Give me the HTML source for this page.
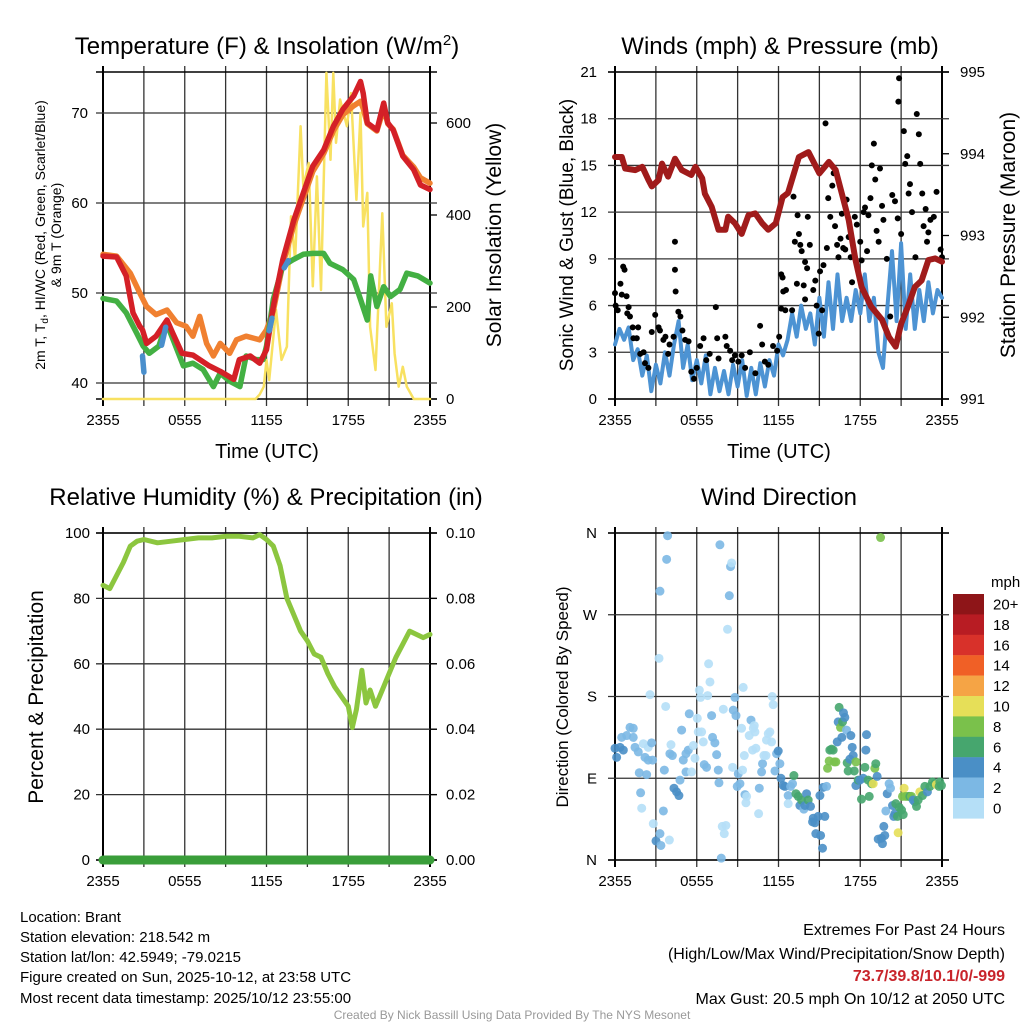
<!DOCTYPE html>
<html><head><meta charset="utf-8"><style>
body{margin:0;background:#fff}
svg{font-family:"Liberation Sans",Arial,sans-serif}
</style></head><body>
<svg id="chart" width="1024" height="1024" viewBox="0 0 1024 1024" xmlns="http://www.w3.org/2000/svg">
<rect width="1024" height="1024" fill="#fff"/>
<g id="layer"></g>
<text x="267" y="54" font-size="24" text-anchor="middle">Temperature (F) &amp; Insolation (W/m<tspan font-size="15" dy="-9">2</tspan><tspan dy="9">)</tspan></text>
<text x="780" y="54" font-size="24" text-anchor="middle">Winds (mph) &amp; Pressure (mb)</text>
<text x="266" y="505" font-size="24" text-anchor="middle">Relative Humidity (%) &amp; Precipitation (in)</text>
<text x="779" y="505" font-size="24" text-anchor="middle">Wind Direction</text>
<text x="267" y="458" font-size="20" text-anchor="middle">Time (UTC)</text>
<text x="779" y="458" font-size="20" text-anchor="middle">Time (UTC)</text>
<text transform="translate(45,235) rotate(-90)" font-size="14" text-anchor="middle">2m T, T<tspan font-size="10" dy="3">d</tspan><tspan dy="-3">, HI/WC (Red, Green, Scarlet/Blue)</tspan></text>
<text transform="translate(61,235) rotate(-90)" font-size="14" text-anchor="middle">&amp; 9m T (Orange)</text>
<text transform="translate(501,235) rotate(-90)" font-size="21" text-anchor="middle">Solar Insolation (Yellow)</text>
<text transform="translate(573,235) rotate(-90)" font-size="19" text-anchor="middle">Sonic Wind &amp; Gust (Blue, Black)</text>
<text transform="translate(1015,235) rotate(-90)" font-size="21" text-anchor="middle">Station Pressure (Maroon)</text>
<text transform="translate(43,697) rotate(-90)" font-size="21" text-anchor="middle">Percent &amp; Precipitation</text>
<text transform="translate(568,697) rotate(-90)" font-size="17" text-anchor="middle">Direction (Colored By Speed)</text>
<g font-size="15">
<text x="20" y="922">Location: Brant</text>
<text x="20" y="942">Station elevation: 218.542 m</text>
<text x="20" y="962">Station lat/lon: 42.5949; -79.0215</text>
<text x="20" y="982">Figure created on Sun, 2025-10-12, at 23:58 UTC</text>
<text x="20" y="1003">Most recent data timestamp: 2025/10/12 23:55:00</text>
</g>
<g font-size="16" text-anchor="end">
<text x="1005" y="935">Extremes For Past 24 Hours</text>
<text x="1005" y="959">(High/Low/Max Wind/Precipitation/Snow Depth)</text>
<text x="1005" y="981" fill="#c8242b" font-weight="bold">73.7/39.8/10.1/0/-999</text>
<text x="1005" y="1004">Max Gust: 20.5 mph On 10/12 at 2050 UTC</text>
</g>
<text x="512" y="1019" font-size="12" fill="#999" text-anchor="middle">Created By Nick Bassill Using Data Provided By The NYS Mesonet</text>
</svg>
<script>
const timeTickLabels = ["2355","0555","1155","1755","2355"];
const tempTicks = [40,50,60,70];
const solarTicks = [0,200,400,600];
const windTicks = [0,3,6,9,12,15,18,21];
const pressTicks = [991,992,993,994,995];
const rhTicks = [0,20,40,60,80,100];
const precipTickLabels = ["0.00","0.02","0.04","0.06","0.08","0.10"];
const dirTickLabels = ["N","E","S","W","N"];
const speedLabels = ["20+","18","16","14","12","10","8","6","4","2","0"];

const redT = [0,1,1.7,2.2,2.7,2.9,3.2,3.9,4.7,5.1,5.8,6.6,7.1,7.8,8.6,9.6,10,10.8,11.5,12,12.5,13.2,14,14.7,15.4,16.2,16.9,17.6,18.4,18.9,19.1,19.4,20.1,20.6,20.9,21.3,22,22.8,23.3,24];
const redV = [54.1,54,51.9,47.8,46.3,45.9,44.4,45.2,47,45.6,43.3,43.1,42.6,41.9,41.3,40.4,42.6,43,42.2,43.7,48.5,53.7,58.1,61.1,64.1,65.9,68.5,70.4,71.9,73.5,72.2,68.9,68.1,71.1,68.9,68.1,65.2,63.7,62,61.5];
const orangeT = [0,1,2,2.7,3.2,3.9,4.7,5.4,6.1,6.6,7.1,7.6,8.1,8.6,9.3,9.8,10.5,11.5,12,12.5,13.2,14,14.7,15.4,16.2,16.9,17.6,18.4,18.9,19.1,19.4,20.1,20.6,20.9,21.3,22,22.8,23.3,24];
const orangeV = [54.3,54.1,52.2,50,48.5,47.6,48.1,46.7,46.3,45.2,47.4,44.4,43,44.4,43.3,44.8,45.2,44.8,45.9,48,53.2,57.5,60.5,63.5,65.5,68,69.8,70.8,71.3,70.5,68.8,68,70.5,68.8,68.2,65.3,64,62.8,62.2];
const greenT = [0,1,1.7,2.45,2.95,3.4,4.1,4.65,5.15,5.9,6.6,7.35,8.1,8.6,9.3,10.05,10.5,11.25,11.75,12,12.5,13.2,13.95,14.7,15.4,16.2,16.65,17.6,18.4,18.9,19.4,19.65,20.1,20.6,21.1,21.8,22.3,23.1,24];
const greenV = [49.4,49.1,47.8,45.6,44.1,43.3,44.1,46.7,44.8,41.9,42.2,41.5,39.6,41.1,40.2,39.6,43,42.6,42.6,44.1,49.3,53,53.7,54.3,54.4,54.4,53.3,52.6,51.5,49.3,47,51.9,48.5,50.7,49.6,50.4,52.2,51.9,51.1];
const blueT = [2.9,3.0,null,4.3,4.6,null,12.2,12.4,null,13.3,13.6];
const blueV = [43,41.2,null,44.2,46.2,null,45.8,47.2,null,52.8,53.6];
const solarT = [0,11.2,11.5,11.8,12,12.2,12.7,13.1,13.5,13.8,14.1,14.5,14.7,15.1,15.4,15.7,16,16.4,16.7,16.9,17.1,17.4,17.9,18.2,18.6,18.9,19.1,19.4,19.6,20,20.5,20.8,21.2,21.4,21.7,22,22.3,22.8,24];
const solarV = [0,0,10,27,85,41,194,85,114,397,302,593,462,513,245,484,237,709,520,709,557,651,593,665,433,622,375,448,157,63,404,157,208,99,27,70,27,0,0];

const windV = [3.5,4.5,3.8, 4.6,2.5,3.2, 1.5,2.8,0.5, 2.2,1,3, 1.5,3.5,5, 2,3.5,1.2, 2.5,1,2.8, 0.3,2,0.5, 1.8,0.3,2.2, 0.8,2.5,0.2, 2,0.3,2.3, 0.8,2.5,1.5, 3.5,2.8,3.8, 5.5,4,6, 4.5,5.5,3.5, 6.5,4,7.5, 4.5,8,5, 6.5,5,7, 5.5,8,5, 6.5,3,2, 6,9.5,5, 10,4.5,8, 4.5,7,5, 7.5,5.5,7, 6.5];
const pressT = [0,0.5,0.75,1.5,2,2.45,2.7,3.2,3.45,3.9,4.4,4.9,5.6,5.9,6.4,6.6,7.1,7.6,8.1,8.3,8.8,9.3,9.8,10.3,10.8,11.25,11.8,12.3,12.7,13.5,14.2,15,15.7,16.2,16.65,17.15,17.65,18.1,18.8,19.6,20.1,20.6,21.0,21.5,22,22.5,23,23.5,24];
const pressV = [993.96,993.96,993.82,993.8,993.84,993.68,993.6,993.68,993.88,993.72,993.94,993.8,993.74,993.84,993.7,993.51,993.35,993.07,993.07,993.23,993.15,993.02,993.25,993.27,993.15,993.07,993.15,993.47,993.52,993.96,994.02,993.76,993.9,993.8,993.51,993.19,992.7,992.37,992.13,991.97,991.76,991.64,991.92,992.13,992.37,992.45,992.7,992.72,992.68];
const gustT = [0,0.05,0.2,0.4,0.5,0.6,0.7,0.85,1.0,0.9,1.1,1.3,1.35,1.6,1.7,1.85,2.1,2.2,2.45,2.7,2.95,3.2,3.3,3.55,3.7,3.9,4.0,4.3,4.4,4.4,4.45,4.65,4.8,4.95,5.15,5.4,5.6,5.8,6.0,6.25,6.5,6.7,6.95,7.4,7.5,7.6,8.1,8.2,8.45,8.6,8.8,9.05,9.3,9.55,9.9,10.3,10.65,10.8,11.0,11.25,11.6,11.9,12.05,12.2,12.3,12.35,12.55,12.2,12.5,13.0,13.1,13.2,13.35,13.4,13.5,13.6,13.7,13.95,14.1,14.15,14.3,13.85,13.95,14.55,14.7,14.8,14.95,15.05,15.2,15.3,15.45,15.55,15.65,15.8,15.95,16.05,16.15,16.3,16.4,16.55,16.65,16.75,16.9,17.0,17.15,17.3,17.4,17.6,17.75,18.0,18.1,18.25,18.35,18.5,18.6,18.75,18.85,19.0,19.1,19.2,19.35,19.45,19.6,19.7,19.95,20.2,20.35,20.55,20.75,20.8,20.85,21.0,21.2,21.3,21.45,21.55,21.65,21.8,22.05,22.15,22.3,22.4,22.55,22.65,22.8,22.9,23.0,23.15,23.4,23.6,23.9,24.0];
const gustV = [6.8,6.0,5.7,7.4,6.7,8.5,8.3,6.6,5.9,5.5,5.3,4.6,3.9,3.9,4.6,2.9,3.0,2.3,2.0,4.3,5.4,4.6,4.4,3.8,4.0,2.9,3.5,4.0,10.1,8.3,6.9,5.6,5.3,4.4,3.8,3.7,1.75,1.3,2.0,3.4,3.9,2.5,2.9,5.9,3.9,2.6,4.0,3.4,3.1,2.5,2.8,2.4,2.8,2.0,3.0,1.65,4.7,3.5,2.4,2.2,3.4,3.1,4.0,8.0,7.8,6.9,7.0,5.8,5.7,5.7,13.0,10.1,7.4,11.8,10.6,9.9,9.5,8.8,8.4,11.7,9.9,7.3,6.4,7.0,7.6,6.0,4.2,8.2,5.7,8.6,17.7,9.7,12.9,11.7,13.7,14.5,11.1,9.9,9.1,10.3,11.9,9.7,9.6,12.8,10.4,9.1,7.5,11.7,11.2,10.1,8.9,12.0,12.3,9.5,11.8,12.9,15.0,16.4,14.1,10.8,10.1,14.8,12.4,11.5,9.0,5.3,13.1,12.7,11.6,19.1,20.6,10.6,17.2,15.1,15.6,13.2,13.8,12.0,9.1,18.3,17.0,15.1,13.2,11.1,12.2,10.1,10.7,11.5,11.7,13.3,9.6,9.1];

const rhT = [0,0.5,1,1.5,2,2.5,3,4,5,6,7,8,9,10,11,11.5,12,12.5,13,13.5,14,14.5,15,15.5,16,16.5,17,17.5,18,18.3,18.6,19,19.3,19.6,20,20.5,21,21.5,22,22.5,23,23.5,24];
const rhV = [84,83,87,91,96,97.5,98,97,97.5,98,98.5,98.5,99,99,98.5,99.5,98,96,90,80,75,70,67,63,62,57,53,50,47,40.5,46,58,48,52,47,52,57,62,66,70,69,68,69];
const precipT = [0,24];
const precipV = [0,0];

const dirT = [0,0.12,0.37,0.61,0.49,0.86,1.1,1.34,1.34,1.47,1.71,2.08,2.44,2.2,2.44,2.69,2.76,2.57,1.78,2.32,1.88,1.96,2.81,3.01,3.3,3.37,3.99,3.55,3.62,3.23,3.3,3.79,3.86,3.72,4.11,4.03,4.21,4.33,4.52,4.69,4.77,4.89,5.01,5.21,5.38,5.21,5.45,5.62,5.75,5.87,6.04,6.11,6.19,6.28,6.36,6.48,6.55,6.72,6.8,6.87,6.97,7.09,7.16,7.33,7.46,7.58,7.63,7.7,7.8,7.87,8.02,8.14,8.26,8.39,8.48,8.56,7.95,8.63,8.68,8.8,8.88,8.97,9.05,9.17,9.29,9.36,9.41,9.49,9.54,9.66,9.61,9.85,9.98,10.15,10.22,10.27,10.1,10.34,10.54,10.59,10.76,10.83,10.93,11.08,11.12,11.25,11.37,11.49,11.54,11.61,11.74,11.86,11.98,12.1,12.18,12.35,12.47,12.71,12.71,12.89,13.03,13.13,13.28,13.45,13.57,13.69,13.86,13.94,14.06,14.18,14.35,14.5,14.55,14.74,14.67,14.91,15.09,15.04,15.23,15.28,15.4,15.53,15.6,15.72,15.77,15.89,16.01,16.09,16.21,16.31,16.38,16.45,16.55,16.65,16.7,16.77,16.87,16.99,17.04,17.11,17.24,17.31,17.41,17.48,17.56,17.68,17.68,17.85,17.97,18.09,18.22,18.34,18.41,18.46,18.58,18.66,18.83,18.95,19.07,19.14,19.24,19.32,19.49,19.56,19.63,19.73,19.8,19.88,19.98,20.12,20.22,20.37,20.46,20.54,20.61,20.73,20.78,20.86,21.03,21.15,21.1,21.22,21.34,21.52,21.64,21.76,21.88,22,22.13,22.25,22.37,22.57,22.74,22.93,23.11,23.3,23.47,23.59,23.79,23.96,23.84];
const dirV = [123,113,124,121,135,137,146,145,135,124,119,128,124,113,110,129,110,182,96,94,74,57,40,21,29,16,22,54,99,222,296,331,357,169,127,117,115,79,75,71,88,143,110,117,121,97,161,97,126,112,156,141,187,179,141,130,105,102,181,216,196,159,135,129,116,99,85,347,2,37,29,38,254,291,323,327,166,102,165,179,159,81,95,84,145,99,190,115,72,70,63,137,154,145,148,141,121,123,51,79,97,106,115,115,132,139,141,130,180,171,98,117,120,106,90,82,81,71,62,81,84,93,73,70,60,66,56,60,73,66,59,42,46,29,41,48,27,71,13,80,48,81,101,109,121,122,121,108,108,130,152,168,146,135,152,162,157,143,107,98,111,137,124,115,98,108,82,88,88,67,90,102,121,138,88,70,84,84,101,106,92,23,355,24,18,37,27,54,73,84,79,60,48,51,62,48,30,58,55,50,70,79,70,70,70,70,66,64,59,66,75,71,81,75,81,86,84,83,81,82,86];
const dirSpeed = [5,5,5,5,3,3,3,3,3,3,3,1,1,3,3,3,3,
1,3,3,3,1,1,5,3,3,1,3,3,1,3,3,3,1,
1,3,3,5,5,5,3,3,3,3,3,3,3,1,1,1,1,1,1,1,1,1,3,3,1,1,1,3,3,3,3,3,3,3,3,1,1,1,1,3,3,1,1,1,3,3,3,3,3,3,1,1,1,1,3,1,1,1,3,1,1,1,1,1,1,3,3,3,1,1,1,1,1,1,1,1,3,3,5,3,5,5,5,3,1,3,3,7,7,7,5,7,3,5,5,7,5,5,5,5,5,5,5,5,5,5,5,3,9,9,7,7,7,9,9,5,5,7,9,5,7,5,5,3,7,7,5,5,5,5,7,9,5,7,5,7,5,7,5,5,7,7,7,11,9,7,5,5,9,5,5,5,5,3,5,3,3,5,5,5,7,7,11,7,7,7,9,11,9,9,7,9,5,5,7,7,11,7,7,5,7,7,7,11,7,7,7];

const barColors = ["#8e1518","#b81c23","#d8312a","#f06026","#f5a445","#e6df58","#7ac14b","#46a66e","#4a8fc6","#7cb8e4","#b5dff7"];

const NS = "http://www.w3.org/2000/svg";
const layer = document.getElementById('layer');
function mk(tag, attrs, parent){
  const e = document.createElementNS(NS, tag);
  for (const k in attrs) e.setAttribute(k, attrs[k]);
  (parent||layer).appendChild(e);
  return e;
}
function panel(x0,y0){ return {x0:x0,x1:x0+327,y0:y0,y1:y0+327}; }
const P1 = panel(103,72), P2 = panel(615,72), P3 = panel(103,533), P4 = panel(615,533);
const xT = (P,t) => P.x0 + t/24*327;
const yTemp = v => 383 - (v-40)*9;
const ySolar = v => 399 - v*0.46;
const yWind = v => 399 - v*327/21;
const yPress = v => 399 - (v-991)*327/4;
const yRH = v => 860 - v*3.27;
const yDir = v => 860 - v*327/360;

function frame(P, hY, name){
  const g = mk('g', {});
  
  
  for (let i=0;i<=8;i++){
    const x = P.x0 + i*327/8;
    const l = mk('line',{x1:x,x2:x,y1:P.y0-6,y2:P.y1+7,stroke:(i==0||i==8)?'#000':'#333','stroke-width':(i==0||i==8)?2:1.3},g);
    
    
  }
  hY.forEach(y=>{
    const l = mk('line',{x1:P.x0-7,x2:P.x1+7,y1:y,y2:y,stroke:'#333','stroke-width':1.3},g);
    
    
  });
  const b = mk('line',{x1:P.x0-7,x2:P.x1+7,y1:P.y1,y2:P.y1,stroke:'#000','stroke-width':1.5},g);
  
  
  const t = mk('line',{x1:P.x0-7,x2:P.x1+7,y1:P.y0,y2:P.y0,stroke:'#000','stroke-width':1.5},g);
  
  
  timeTickLabels.forEach((lab,i)=>{
    const tx = mk('text',{x:P.x0+i*327/4,y:P.y1+26,'font-size':15,'text-anchor':'middle'},g);
    tx.textContent = lab;
    
    
  });
}
function leftLabels(P, vals, yf, fmt, name, x){
  vals.forEach(v=>{
    const tx = mk('text',{x:x,y:yf(v)+5,'font-size':15,'text-anchor':'end'});
    tx.textContent = fmt(v);
    
    
  });
}
function rightLabels(P, vals, yf, fmt, name, x){
  vals.forEach((v,i)=>{
    const l = mk('line',{x1:P.x1,x2:P.x1+7,y1:yf(v),y2:yf(v),stroke:'#000','stroke-width':1.3});
    
    
    const tx = mk('text',{x:x,y:yf(v)+5,'font-size':15});
    tx.textContent = fmt(v,i);
    
    
  });
}
function pathFrom(P, ts, vs, yf){
  let d='', pen=false;
  for (let i=0;i<ts.length;i++){
    if (ts[i]===null || vs[i]===null){pen=false;continue;}
    d += (pen?'L':'M') + xT(P,ts[i]).toFixed(1) + ',' + yf(vs[i]).toFixed(1);
    pen=true;
  }
  return d;
}
function line(P, ts, vs, yf, color, w, name){
  const p = mk('path',{d:pathFrom(P,ts,vs,yf),fill:'none',stroke:color,'stroke-width':w,'stroke-linejoin':'round','stroke-linecap':'round'});
  
  
}

frame(P1, tempTicks.map(yTemp), 'temperature');
leftLabels(P1, tempTicks, yTemp, v=>v, 'temperature-tick-label', 88);
rightLabels(P1, solarTicks, ySolar, v=>v, 'solar-tick-label', 446);
line(P1, solarT, solarV, ySolar, '#f8e161', 2.5, 'solar-insolation-line');
line(P1, orangeT, orangeV, yTemp, '#f08030', 5.5, 'temp-9m-line');
line(P1, greenT, greenV, yTemp, '#43b043', 5.5, 'dewpoint-line');
line(P1, redT, redV, yTemp, '#d42027', 5.5, 'temp-2m-line');
line(P1, blueT, blueV, yTemp, '#4a8fcc', 5.5, 'heat-index-wind-chill-line');

frame(P2, windTicks.map(yWind), 'winds');
leftLabels(P2, windTicks, yWind, v=>v, 'wind-tick-label', 597);
rightLabels(P2, pressTicks, yPress, v=>v, 'pressure-tick-label', 960);
const windT = windV.map((v,i)=>i/3);
line(P2, windT, windV, yWind, '#4d93d3', 4, 'sonic-wind-line');
gustT.forEach((t,i)=>{
  const c = mk('circle',{cx:xT(P2,t),cy:yWind(gustV[i]),r:3,fill:'#000'});
  
  
});
line(P2, pressT, pressV, yPress, '#a01b1b', 6, 'station-pressure-line');

frame(P3, rhTicks.map(yRH), 'humidity');
leftLabels(P3, rhTicks, yRH, v=>v, 'humidity-tick-label', 90);
rightLabels(P3, rhTicks, yRH, (v,i)=>precipTickLabels[i], 'precip-tick-label', 446);
line(P3, rhT, rhV, yRH, '#8cc63f', 5, 'relative-humidity-line');
line(P3, precipT, precipV, yRH, '#3a9e3a', 9, 'precipitation-line');

frame(P4, [0,90,180,270,360].map(yDir), 'direction');
dirTickLabels.forEach((lab,i)=>{
  const tx = mk('text',{x:597,y:yDir(i*90)+5,'font-size':15,'text-anchor':'end'});
  tx.textContent = lab;
  
  
});
function speedColor(s){
  if (s === undefined || isNaN(s)) s = 3;
  const bin = Math.min(10, Math.floor(s/2));
  return barColors[10-bin];
}
dirT.forEach((t,i)=>{
  const c = mk('circle',{cx:xT(P4,t),cy:yDir(dirV[i]),r:4.5,fill:speedColor(dirSpeed[i]),'fill-opacity':0.9});
  
  
});
const cb = mk('g',{});


const mph = mk('text',{x:991,y:587,'font-size':15},cb);
mph.textContent='mph';


barColors.forEach((col,i)=>{
  const r = mk('rect',{x:953,y:594+i*20.4,width:31,height:20.6,fill:col},cb);
  
  
  const tx = mk('text',{x:993,y:594+i*20.4+15.5,'font-size':15},cb);
  tx.textContent = speedLabels[i];
  
  
});
</script>
</body></html>
